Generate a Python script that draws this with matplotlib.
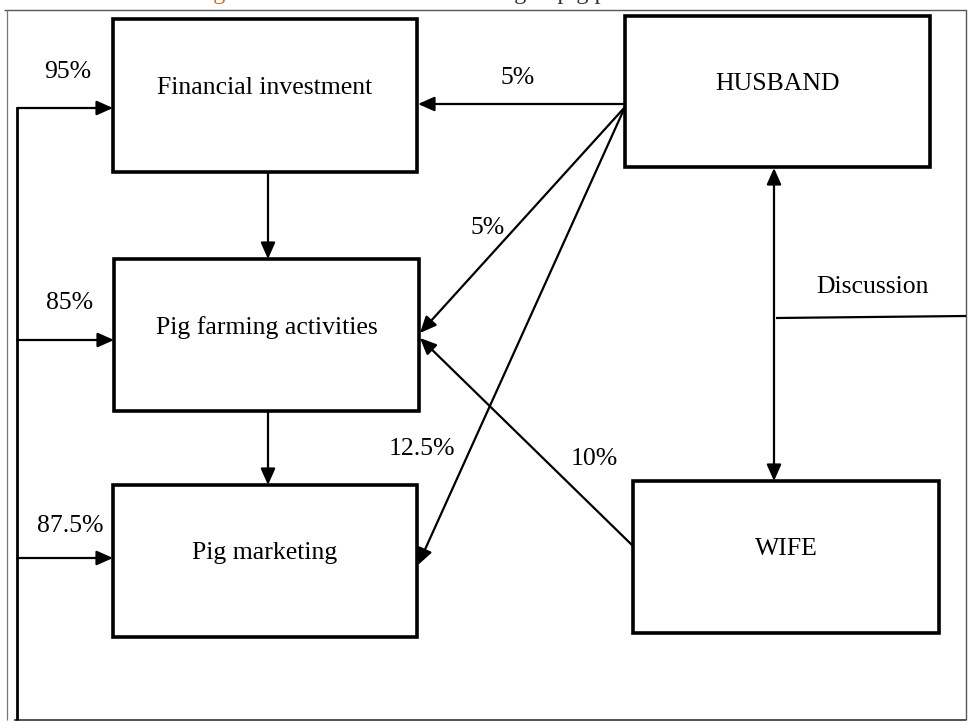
import matplotlib.pyplot as plt
from matplotlib.patches import Rectangle, FancyArrowPatch

plt.rcParams["font.family"] = ["Liberation Serif", "DejaVu Serif"]

# diagram content
nodes = ["Financial investment", "Pig farming activities", "Pig marketing", "HUSBAND", "WIFE"]
feedback_pct = ["95%", "85%", "87.5%"]      # left loop into the three stages
husband_pct = ["5%", "5%", "12.5%"]         # husband -> the three stages
wife_pct = ["10%"]                          # wife -> pig farming
link_label = "Discussion"
caption = "Process of decision making in pig production at household"

# layout (pixel coords, y downward)
boxes = {
    "Financial investment": (113, 19, 417, 172),
    "Pig farming activities": (114, 259, 419, 411),
    "Pig marketing": (113, 485, 417, 637),
    "HUSBAND": (625, 16, 930, 167),
    "WIFE": (633, 481, 939, 633),
}

fig = plt.figure(figsize=(9.69, 7.22), dpi=100)
ax = fig.add_axes([0, 0, 1, 1])
ax.set_xlim(0, 969)
ax.set_ylim(722, 0)
ax.axis("off")

FS = 18.5


def arrow(p0, p1, lw=1.6):
    a = FancyArrowPatch(p0, p1, arrowstyle="-|>,head_length=0.9,head_width=0.4",
                        mutation_scale=11, lw=lw, color="black",
                        shrinkA=0, shrinkB=0)
    ax.add_patch(a)


def line(xs, ys, lw=1.6, color="black"):
    ax.plot(xs, ys, color=color, lw=lw, solid_capstyle="butt")


# outer frame
line([4, 966, 966], [10, 10, 720], lw=1.0, color="#555555")
line([7, 7], [10, 720], lw=0.9, color="#777777")
line([14, 966], [720, 720], lw=1.2, color="#333333")

# boxes
for name in nodes:
    x0, y0, x1, y1 = boxes[name]
    ax.add_patch(Rectangle((x0, y0), x1 - x0, y1 - y0, fill=False, lw=2.6,
                           edgecolor="black"))
    ax.text((x0 + x1) / 2, y0 + 0.45 * (y1 - y0), name, ha="center", va="center",
            fontsize=FS)

# stage to stage
arrow((268, 172), (268, 259))
arrow((268, 411), (268, 485))

# left feedback loop
loop_y = [108, 340, 558]
targets_x = [113, 114, 113]
line([17, 17], [loop_y[0], 720], lw=2.0)
label_pos = [(68, 72), (70, 303), (70, 526)]
for y, tx, lab, (lx, ly) in zip(loop_y, targets_x, feedback_pct, label_pos):
    arrow((17, y), (tx, y))
    ax.text(lx, ly, lab, ha="center", va="center", fontsize=FS)

# husband arrows
hx, hy = 625, 107
arrow((hx, 104), (418, 104))
arrow((hx, hy), (420, 333))
arrow((hx, hy), (418, 565))
for lab, (lx, ly) in zip(husband_pct, [(518, 78), (488, 228), (422, 449)]):
    ax.text(lx, ly, lab, ha="center", va="center", fontsize=FS)

# wife arrow
arrow((633, 546), (420, 338))
ax.text(594, 459, wife_pct[0], ha="center", va="center", fontsize=FS)

# discussion link
arrow((774, 320), (774, 168))
arrow((774, 320), (774, 481))
line([776, 966], [318, 316], lw=1.6)
ax.text(873, 287, link_label, ha="center", va="center", fontsize=FS)

# caption, clipped at the top edge as in the source
ax.text(250, -7, "Fig 4:", ha="right", va="center", fontsize=FS - 1, color="#d2691e")
ax.text(260, -7, caption, ha="left", va="center", fontsize=FS - 1, color="#333333")

fig.savefig("out.png", dpi=100)
